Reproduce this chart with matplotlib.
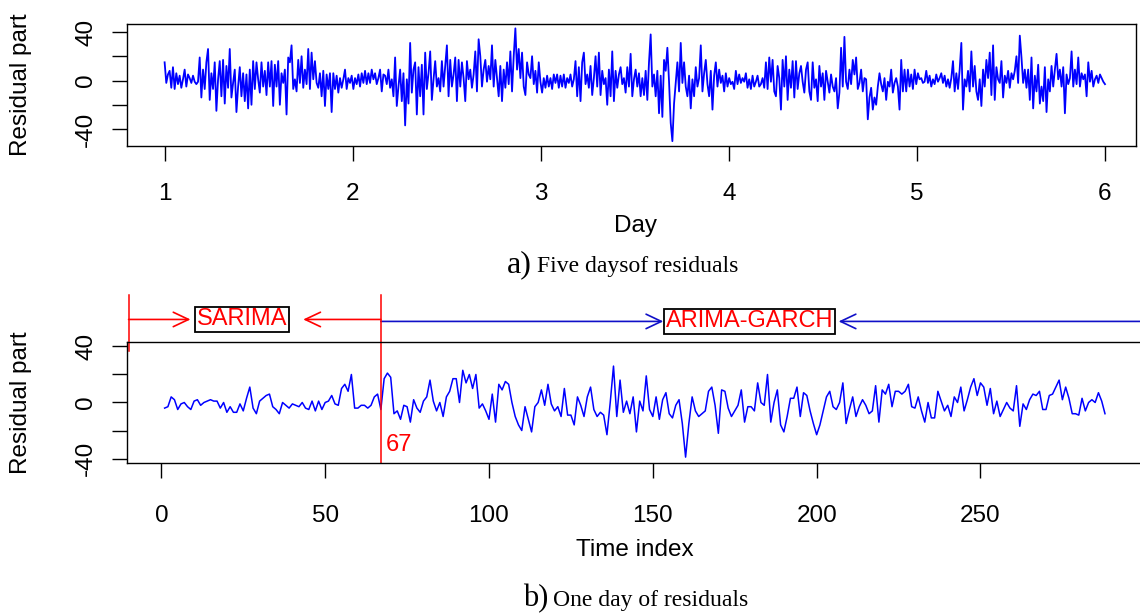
import numpy as np
import matplotlib
matplotlib.use("Agg")
import matplotlib.pyplot as plt
from matplotlib.patches import FancyArrowPatch

# ---------------- data ----------------
# top panel: five days of residuals (~3 values per 5 px)
day1 = [15,-2,5, 8,-6,11, -7,6,-3, 4,-6,1, 9,-5,5, 2,-2,4, -1,-3,-1, 19,-14,9, -7,15,26,
        -16,6,-7, 15,-25,1, 16,-13,17, -19,12,-6, 26,-14,-2, 9,-26,-5, 11,-13,6, -17,5,-23,
        9,-20,16, -7,15,1, -10,15,-5, 8,-12,15, -5,16,-21, 13,-5,16, -20,6,-2, 9,-28,19,
        15,29,-7, 1,-9,17, -2,20,-6, 9,-3,26, -7,23,1, 16,-2,-6, 6,-13,8, -21,5,-7, 6,-26,6,
        -7,4,-10, 2,-6,1, 9,-7,2, -2,4,-7]
day2 = [2,-3,5, -5,6,-2, 8,-3,6, -2,9,1, 6,-3,2, 9,-9,5, 4,-3,9, -6,1,-13, 19,-21,-5,
        9,-17,6, -37,1,-19, 31,-10,9, 15,-28,11, -13,13,-28, 23,-7,6, 24,-16,1, 16,-5,2,
        -9,16,-5, 12,29,-13, 17,-5,5, 19,-17,17, -5,15,2, -17,16,1, 9,-6,5, 24,-9,34,
        20,-5,9, 17,-1,12, 1,29,-5, 17,2,-13, 12,-17,9, -6,15,-3, 24,-9,20, 43,9,26,
        2,23,-5, -12,15,5, 2,20,-3, 8,-10,15, -1,-10,2]
day3 = [-6,4,-5, 2,-7,5, -2,5,-6, 4,-5,5, -6,2,-2, 5,-5,1, 16,-13,11, -17,15,23, -3,5,-6,
        12,-12,2, 20,-5,23, -12,8,-3, 2,-20,9, -13,24,-17, 8,-6,5, 11,-3,2, -10,11,-5,
        22,-13,1, 9,-5,6, -13,2,-12, 8,-16,15, 38,-5,5, -13,8,-27, 4,-30,17, 8,27,-1,
        -35,-50,-19, -2,15,-9, 31,-2,15, -5,-13,4, -23,1,-13, 11,-5,2, 29,-9,6, 17,-3,-13,
        8,-24,4, 15,-5,9, -2,4,-9, 6,-5,2, -3,-1,-7]
day4 = [8,-3,5, -2,2,-1, 6,-6,1, -7,4,-5, -1,4,-5, -3,2,-6, 15,-7,19, -1,17,-9, -13,12,2,
        -24,17,-5, 20,-16,9, -6,16,-14, 16,-7,6, 12,-1,-10, 9,15,-9, -16,15,-6, 1,-17,12,
        -5,6,-16, 8,-1,-10, 5,-5,-9, 2,-23,-10, 27,-5,36, -1,-7,9, -3,17,5, 19,-7,-2,
        9,-9,2, 1,-32,-14, -6,-24,-14, -20,-5,6, -3,-9,2, -16,-1,-5, 9,-10,-2, 2,-5,-24,
        17,-9,9, -9,9,-5, 5,-7,9, -3,6,1, 2,-2,-1]
day5 = [8,-2,4, -5,1,-3, 5,-1,2, 6,-2,4, -5,1,-6, 2,16,-9, 6,-7,9, 31,-24,1, -5,8,-9,
        24,-5,12, -9,-16,1, -21,9,-5, 17,2,23, -12,29,-16, 11,1,-2, 16,-14,4, -2,8,-6,
        6,1,8, 20,-2,37, 19,-2,9, -6,9,-16, 19,-23,4, -9,13,-19, -5,-17,11, -26,1,-9,
        12,-5,9, 22,1,9, -5,11,-27, 5,-3,2, 24,-5,9, -3,19,-5, 6,1,5, -13,15,-1, 8,-5,1,
        4,-2,5, 2,-1,-3]

# bottom panel: one day of residuals (288 five-minute points)
oneday_a = [-4,-3,4,2,-5,-1,0,-3,-5,1, 2,-2,0,1,2,1,1,-4,0,-7, -3,-7,-7,-1,-6,3,11,-4,-8,1,
            3,5,6,-3,-5,-8,0,-2,-4,-1, -2,-3,0,-4,-5,1,-6,1,-5,0, 1,5,-1,-2,10,13,8,20,-4,-4,
            -2,-2,-4]
oneday_b = [-2,4,6,-5,17,21,18,-8,-6,-12, -2,-3,-14,2,-4,-7,1,4,16,1, -6,0,-10,4,8,17,17,0,23,14,
            20,10,20,-4,-1,-6,-12,6,-14,13, 9,15,13,0,-10,-16,-20,-3,-12,-21,
            -3,0,9,-2,13,-1,-6,-3,-10,10, -9,-9,-16,4,-2,-10,4,11,-5,-10]
oneday_c = [-7,-9,-23,0,26,-10,16,-7,1,-8, 4,-21,1,-6,19,-5,-10,4,-12,2, 7,-8,-11,-2,2,-15,-39,-15,4,-6,
            -10,-8,-6,8,11,-2,-22,9,8,-4, -10,-6,-2,9,-14,-3,-3,-6,14,0, -2,20,-14,0,9,-16,-21,-10,3,3,
            11,-10,7,5,-6,-15,-23,-16,-6,4, 8,-3,-5,0,14,-15]
oneday_d = [-5,4,-10,-3,2,-2,-8,-6,12,-14, 9,6,13,-3,8,8,6,8,13,-3, -4,4,-6,-14,0,-11,-11,8,1,-6,
            -2,-10,4,0,11,-6,2,11,17,5, 14,11,-2,10,-8,1,-10,-5,0,-4, -6,12,-17,-1,-5,2,6,5,8,-5,
            -5,5,6,11,16,2,11,3,-8,-8, -9,3,-6,0,2,0,7,1,-8]

day_ticks = [1, 2, 3, 4, 5, 6]
idx_ticks = [0, 50, 100, 150, 200, 250]
y_ticks = [-40, -20, 0, 20, 40]
y_ticklabels = ["-40", "", "0", "", "40"]
split_index = 67

top_y = np.array(day1 + day2 + day3 + day4 + day5, dtype=float)
top_x = np.linspace(1, 6, len(top_y))
bot_y = np.array(oneday_a + oneday_b + oneday_c + oneday_d, dtype=float)
bot_x = np.arange(1, len(bot_y) + 1)

# ---------------- figure ----------------
W, H = 1140, 615
fig = plt.figure(figsize=(W / 100, H / 100), dpi=100)
SANS = ["Liberation Sans", "DejaVu Sans"]
SERIF = ["Liberation Serif", "DejaVu Serif"]
plt.rcParams["font.family"] = SANS
FS = 17.5
BLUE = "#0000FF"


def rect(l, t, r, b):
    return [l / W, 1 - b / H, (r - l) / W, (b - t) / H]


def style_axes(ax, xpad):
    for s in ax.spines.values():
        s.set_linewidth(1.0)
        s.set_color("black")
    ax.tick_params(direction="out", length=10.5, width=1.0, labelsize=FS, colors="black")
    ax.tick_params(axis="x", pad=xpad)
    ax.tick_params(axis="y", pad=11)
    ax.set_yticks(y_ticks)
    ax.set_yticklabels(y_ticklabels)
    for lbl in ax.get_yticklabels():
        lbl.set_rotation(90)
        lbl.set_va("center")


# top panel
ax1 = fig.add_axes(rect(127, 24, 1136, 146))
ax1.plot(top_x, top_y, color=BLUE, lw=1.3)
ax1.set_xlim(0.8, 6.2 * 1 - (1142.6 - 1136) / 1015.6 * 5.4)
ax1.set_ylim(-54.0, 46.6)
ax1.set_xticks(day_ticks)
ax1.set_xticklabels([str(d) for d in day_ticks])
style_axes(ax1, 16)

# bottom panel
ax2 = fig.add_axes(rect(127, 342, 1142.6, 463))
ax2.plot(bot_x, bot_y, color=BLUE, lw=1.1)
ax2.set_xlim(-10.48, 299.48)
ax2.set_ylim(-43.2, 43.2)
ax2.set_xticks(idx_ticks)
ax2.set_xticklabels([str(t) for t in idx_ticks])
style_axes(ax2, 20)

# annotations above the bottom panel
RED = "red"
ARROW_BLUE = "#1010C8"
y_red, y_blue = 59.3, 57.9
ax2.plot([-10, -10], [37, 77], color=RED, lw=1.1, clip_on=False)
ax2.plot([split_index, split_index], [-43.2, 77], color=RED, lw=1.1, clip_on=False)


def arrow(x0, x1, y, color):
    a = FancyArrowPatch((x0, y), (x1, y), arrowstyle="->,head_length=0.55,head_width=0.26",
                        mutation_scale=20, color=color, lw=1.2, shrinkA=0, shrinkB=0,
                        transform=ax2.transData, clip_on=False)
    ax2.add_artist(a)


arrow(-10, 8.9, y_red, RED)
arrow(split_index, 43.3, y_red, RED)
arrow(split_index, 153.2, y_blue, ARROW_BLUE)
arrow(305, 206.7, y_blue, ARROW_BLUE)

box = dict(boxstyle="square,pad=0.08", fc="white", ec="black", lw=1.3)
ax2.text(24.7, y_red, "SARIMA", color=RED, fontsize=17, ha="center", va="center",
         bbox=box, clip_on=False)
ax2.text(179.5, y_blue, "ARIMA-GARCH", color=RED, fontsize=17, ha="center", va="center",
         bbox=box, clip_on=False)
ax2.text(68.4, -30, str(split_index), color=RED, fontsize=17, ha="left", va="center")


# labels and captions (pixel positions)
def ft(px, py, s, **kw):
    fig.text(px / W, 1 - py / H, s, **kw)


ft(21, 85, "Residual part", rotation=90, ha="center", va="center", fontsize=FS)
ft(21, 402.5, "Residual part", rotation=90, ha="center", va="center", fontsize=FS)
ft(635, 226, "Day", ha="center", va="center", fontsize=FS)
ft(635, 550, "Time index", ha="center", va="center", fontsize=FS)

ft(507, 272, "a)", ha="left", va="baseline", fontsize=23, family=SERIF)
ft(537, 272, "Five daysof residuals", ha="left", va="baseline", fontsize=17, family=SERIF)
ft(523, 606, "b)", ha="left", va="baseline", fontsize=22, family=SERIF)
ft(553, 606, "One day of residuals", ha="left", va="baseline", fontsize=17, family=SERIF)

fig.savefig("out.png", dpi=100)
